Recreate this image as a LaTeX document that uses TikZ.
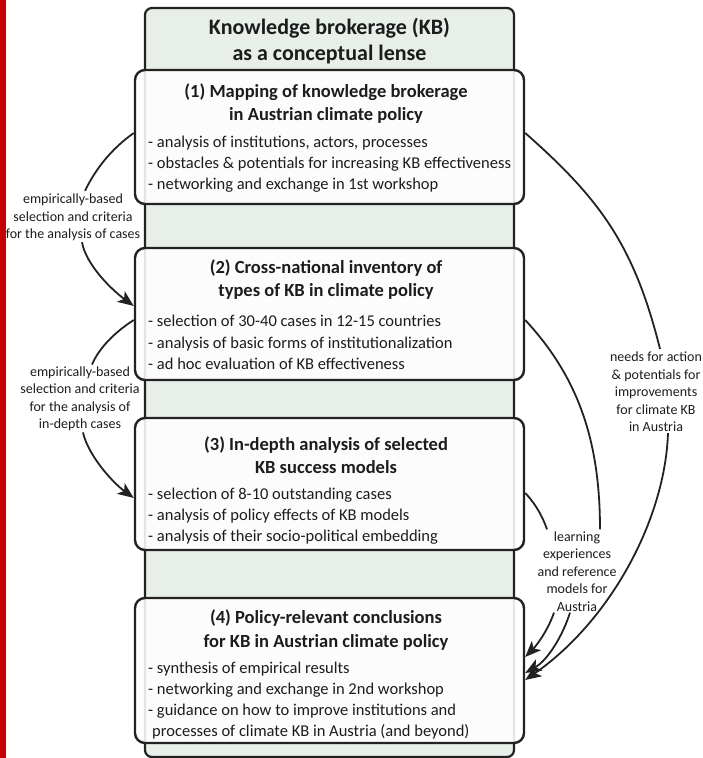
\documentclass[tikz,border=0pt]{standalone}
\usepackage{fontspec}
\setmainfont{Carlito}
\usetikzlibrary{arrows.meta}
\definecolor{kbred}{RGB}{196,0,0}
\definecolor{kbcol}{RGB}{232,238,232}
\definecolor{kbline}{RGB}{34,34,34}
\definecolor{kbtext}{RGB}{28,28,28}
\begin{document}
\begin{tikzpicture}[x=1pt,y=-1pt,
  colbox/.style={draw=kbline, line width=2.2pt, fill=kbcol, rounded corners=7pt, inner sep=0pt},
  kbbox/.style={draw=kbline, line width=2.4pt, fill=white, fill opacity=0.88, draw opacity=1, rounded corners=10pt, minimum width=389pt, inner sep=0pt},
  ttl/.style={font=\fontsize{22}{26.5}\selectfont\bfseries, align=center, text=kbtext, inner sep=0pt},
  hd/.style={font=\fontsize{18.5}{23.5}\selectfont\bfseries, align=center, text=kbtext, inner sep=0pt},
  bl/.style={font=\fontsize{16.5}{21.2}\selectfont, align=left, anchor=west, text=kbtext, inner sep=0pt},
  lbl/.style={font=\fontsize{14}{17.5}\selectfont, align=center, text=kbtext, inner sep=1pt},
  conn/.style={draw=kbline, line width=1.8pt},
  arr/.style={conn, -{Stealth[length=16pt,width=13pt,inset=4pt]}}
]
\useasboundingbox (0,0) rectangle (703,758);
\fill[kbred] (0,0) rectangle (5.5,758);

\node[colbox, minimum width=369pt, minimum height=749pt] (col) at (329.5,382.5) {};
\node[ttl] (kb) at (329.5,41) {Knowledge brokerage (KB)\\as a conceptual lense};

% boxes
\node[kbbox, minimum height=134pt] (b1) at (329.5,137) {};
\node[kbbox, minimum height=132pt] (b2) at (329.5,314) {};
\node[kbbox, minimum height=132pt] (b3) at (329.5,484) {};
\node[kbbox, minimum height=145pt] (b4) at (329.5,670.5) {};

\node[hd] (h1) at (326,103.5) {(1) Mapping of knowledge brokerage\\in Austrian climate policy};
\node[bl] (t1) at (148,164) {- analysis of institutions, actors, processes\\- obstacles \& potentials for increasing KB effectiveness\\- networking and exchange in 1st workshop};

\node[hd] (h2) at (326,279.5) {(2) Cross-national inventory of\\types of KB in climate policy};
\node[bl] (t2) at (148,342.5) {- selection of 30-40 cases in 12-15 countries\\- analysis of basic forms of institutionalization\\- ad hoc evaluation of KB effectiveness};

\node[hd] (h3) at (326,455) {(3) In-depth analysis of selected\\KB success models};
\node[bl] (t3) at (148,516) {- selection of 8-10 outstanding cases\\- analysis of policy effects of KB models\\- analysis of their socio-political embedding};

\node[hd] (h4) at (326,630) {(4) Policy-relevant conclusions\\for KB in Austrian climate policy};
\node[bl] (t4) at (148,700.5) {- synthesis of empirical results\\- networking and exchange in 2nd workshop\\- guidance on how to improve institutions and\\\hspace{4pt}processes of climate KB in Austria (and beyond)};

% labels
\node[lbl] (l1) at (73,217.5) {empirically-based\\selection and criteria\\for the analysis of cases};
\node[lbl] (l2) at (80,399) {empirically-based\\selection and criteria\\for the analysis of\\in-depth cases};
\node[lbl] (l3) at (656,392) {needs for action\\\& potentials for\\improvements\\for climate KB\\in Austria};
\node[lbl] (l4) at (577,571.5) {learning\\experiences\\and reference\\models for\\Austria};

% left connectors
\draw[conn] ([yshift=4pt]b1.west) .. controls (111,149) and (95,170) .. ([xshift=12pt,yshift=2pt]l1.north);
\draw[arr] ([xshift=9pt,yshift=0pt]l1.south) .. controls (86,265) and (112,290) .. ([yshift=8pt]b2.west);
\draw[conn] ([yshift=-6pt]b2.west) .. controls (115,332) and (99,348) .. ([xshift=12pt,yshift=1pt]l2.north);
\draw[arr] ([xshift=3pt,yshift=0pt]l2.south) .. controls (88,455) and (112,482) .. ([yshift=-14pt]b3.west);

% right connectors
\draw[conn] ([yshift=4pt]b1.east) .. controls (600,199) and (634,245) .. ([xshift=4pt,yshift=2pt]l3.north);
\draw[arr] ([xshift=12pt,yshift=0pt]l3.south) .. controls (665,520) and (610,621) .. ([yshift=-9.5pt]b4.east);
\draw[conn] ([yshift=-6pt]b2.east) .. controls (579,378) and (600,442) .. ([xshift=23pt,yshift=1pt]l4.north);
\draw[conn] ([yshift=-9pt]b3.east) .. controls (532,500) and (541,512) .. ([xshift=-30pt,yshift=1pt]l4.north);
\draw[arr] ([xshift=-23pt,yshift=0pt]l4.south) .. controls (548,630) and (537,645) .. ([yshift=13.5pt]b4.east);
\draw[arr] ([xshift=-7pt,yshift=0pt]l4.south) .. controls (563,635) and (548,660) .. ([yshift=-2.5pt]b4.east);
\end{tikzpicture}
\end{document}
